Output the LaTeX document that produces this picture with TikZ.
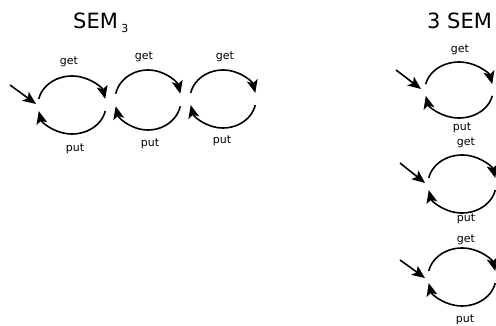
\documentclass[tikz,border=0pt]{standalone}
\usepackage{fontspec}
\setmainfont{DejaVu Sans}
\usetikzlibrary{arrows.meta}
\tikzset{
  arcline/.style={line width=1.6pt, -{Stealth[length=13pt,width=11pt,inset=3pt]}},
  lbl/.style={font=\fontsize{11}{13}\selectfont, inner sep=0pt},
  ttl/.style={font=\fontsize{21}{24}\selectfont, inner sep=0pt},
  entry/.style={line width=1.6pt, -{Stealth[length=13pt,width=11pt,inset=3pt]}}
}
\begin{document}
\begin{tikzpicture}[x=1pt,y=1pt]
\clip (0,0) rectangle (496,326);
\useasboundingbox (0,0) rectangle (496,326);
% titles
\node[ttl, anchor=base west] (t1) at (73,297) {SEM\,\raisebox{-4pt}{\fontsize{11}{12}\selectfont 3}};
\node[ttl, anchor=base west] (t2) at (427,297) {3 SEM};
% state centers
\coordinate (a1) at (72,221);
\coordinate (a2) at (148,226);
\coordinate (a3) at (223,227);
\coordinate (b1) at (459,236);
\coordinate (b2) at (462,142);
\coordinate (b3) at (462,49);
% loops
\foreach \c/\rx/\ry in {a1/34/29, a2/33/30, a3/33/29, b1/34/28, b2/34/29, b3/34/29}{
  \draw[arcline] ([shift={(168:\rx pt and \ry pt)}]\c) arc[start angle=168, end angle=12, x radius=\rx pt, y radius=\ry pt];
  \draw[arcline] ([shift={(-12:\rx pt and \ry pt)}]\c) arc[start angle=-12, end angle=-168, x radius=\rx pt, y radius=\ry pt];
}
% labels
\node[lbl] (g1) at (69,264) {get};
\node[lbl] (p1) at (75,177) {put};
\node[lbl] (g2) at (144,269) {get};
\node[lbl] (p2) at (150,182) {put};
\node[lbl] (g3) at (225,269) {get};
\node[lbl] (p3) at (222,185) {put};
\node[lbl] (g4) at (460,276) {get};
\node[lbl] (p4) at (462,198) {put};
\node[lbl] (g5) at (466,183) {get};
\node[lbl] (p5) at (466,107) {put};
\node[lbl] (g6) at (466,86) {get};
\node[lbl] (p6) at (465,6) {put};
% entry arrows
\coordinate (e1s) at (10,241); \coordinate (e1t) at (36,222);
\coordinate (e2s) at (396,256); \coordinate (e2t) at (421,237);
\coordinate (e3s) at (400,163); \coordinate (e3t) at (425,143);
\coordinate (e4s) at (400,66); \coordinate (e4t) at (425,48);
\draw[entry] (e1s) -- (e1t);
\draw[entry] (e2s) -- (e2t);
\draw[entry] (e3s) -- (e3t);
\draw[entry] (e4s) -- (e4t);
\end{tikzpicture}
\end{document}
